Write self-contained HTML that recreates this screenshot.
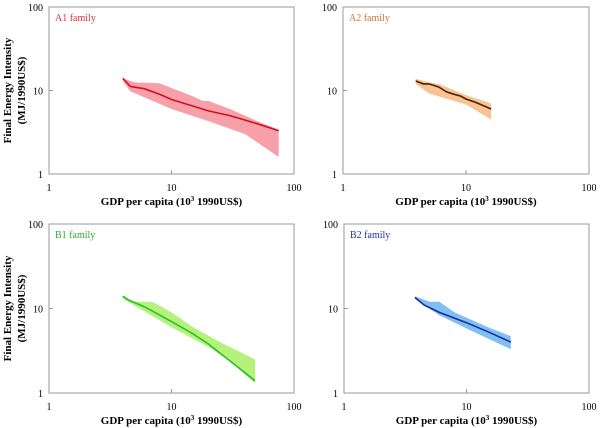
<!DOCTYPE html>
<html><head><meta charset="utf-8"><style>
html,body{margin:0;padding:0;background:#fff}
svg{display:block}
text{font-family:"Liberation Serif",serif;fill:#000}
</style></head><body>
<svg id="c" width="600" height="428" viewBox="0 0 600 428"></svg>
<script>
const titles=["A1 family","A2 family","B1 family","B2 family"];
const titleColors=["#e0303a","#c87a30","#28b028","#2030b0"];
const bandColors=["#f8a0aa","#f9c494","#b4f27c","#80c0f0"];
const lineColors=["#d01020","#4a2008","#28c028","#1a2aa0"];
const xTicks=[1,10,100];
const yTicks=[1,10,100];
const lineX=[[4,4.2,4.6,6,8,10,15,20,30,50,75],[3.9,4.5,5,6,7,8,9,10,12,16],[4,4.5,6,10,15,20,30,48],[3.8,4.5,6,10,15,23]];
const lineY=[[14,13,11.2,10.5,9,7.8,6.5,5.7,5,4,3.3],[13,12,12,11,9.6,9,8.6,7.9,7.2,6.0],[14,12.5,10.5,7,5,3.8,2.4,1.4],[13.5,11,9,6.8,5.3,4]];
const upX=[[4,5,8,10,15,18,20,30,50,75],[3.9,5,6,10,16],[4,5,7,10,15,25,48],[3.8,5,6,8,15,23]];
const upY=[[14,12.5,12.2,10.7,8.5,7.5,7.5,6,4.3,3.4],[13.8,12.5,12,8.8,7],[14,12,12,9,6,4,2.5],[14,12,12,9,6,4.7]];
const loX=[[4,4.6,10,20,40,75],[3.9,5,10,16],[4,6,10,20,30,48],[3.8,6,10,23]];
const loY=[[13,9.8,6,4.3,3,1.6],[12,9.2,6.8,4.5],[13,9.3,6,3.5,2.4,1.3],[13,8.3,5.8,3.3]];
const boxes=[[49,7,294,174],[343,7,589,174],[49,224,294,393],[344,224,589,393]];
const NS="http://www.w3.org/2000/svg";
const svg=document.getElementById('c');
function mk(t,a,p){const e=document.createElementNS(NS,t);for(const k in a)e.setAttribute(k,a[k]);(p||svg).appendChild(e);return e;}
boxes.forEach((b,i)=>{
  const [L,T,R,B]=b;
  const sx=v=>L+(R-L)*Math.log10(v)/2;
  const sy=v=>B-(B-T)*Math.log10(v)/2;
  const g=mk('g',{});
  
  
  let pts=[];
  upX[i].forEach((x,k)=>pts.push(sx(x).toFixed(1)+','+sy(upY[i][k]).toFixed(1)));
  for(let k=loX[i].length-1;k>=0;k--)pts.push(sx(loX[i][k]).toFixed(1)+','+sy(loY[i][k]).toFixed(1));
  const band=mk('polygon',{points:pts.join(' '),fill:bandColors[i]},g);
  
  
  const lp=lineX[i].map((x,k)=>sx(x).toFixed(1)+','+sy(lineY[i][k]).toFixed(1)).join(' ');
  const ln=mk('polyline',{points:lp,fill:'none',stroke:lineColors[i],'stroke-width':1.6},g);
  
  
  const fr=mk('rect',{x:L,y:T,width:R-L,height:B-T,fill:'none',stroke:'#999','stroke-width':1},g);
  
  
  xTicks.forEach(v=>{
    mk('line',{x1:sx(v),x2:sx(v),y1:B,y2:B-4,stroke:'#999'},g);
    const t=mk('text',{x:sx(v),y:B+17,'font-size':10,'text-anchor':'middle'},g);t.textContent=v;
    
    
  });
  yTicks.forEach(v=>{
    mk('line',{x1:L,x2:L+4,y1:sy(v),y2:sy(v),stroke:'#999'},g);
    const t=mk('text',{x:L-6,y:sy(v)+4,'font-size':10,'text-anchor':'end'},g);t.textContent=v;
    
    
  });
  const tt=mk('text',{x:L+6,y:T+14,'font-size':10},g);tt.textContent=titles[i];tt.style.fill=titleColors[i];
  
  
  const xl=mk('text',{x:(L+R)/2,y:B+31,'font-size':11,'font-weight':'bold','text-anchor':'middle'},g);
  xl.innerHTML='GDP per capita (10<tspan dy="-4" font-size="7">3</tspan><tspan dy="4"> 1990US$)</tspan>';
  
  
  if(i%2===0){
    const cy=(T+B)/2;
    const y1=mk('text',{transform:`translate(11,${cy}) rotate(-90)`,'font-size':11,'font-weight':'bold','text-anchor':'middle'},g);
    y1.textContent='Final Energy Intensity';
    
    
    const y2=mk('text',{transform:`translate(25,${cy}) rotate(-90)`,'font-size':11,'font-weight':'bold','text-anchor':'middle'},g);
    y2.textContent='(MJ/1990US$)';
    
    
  }
});
</script>
</body></html>
